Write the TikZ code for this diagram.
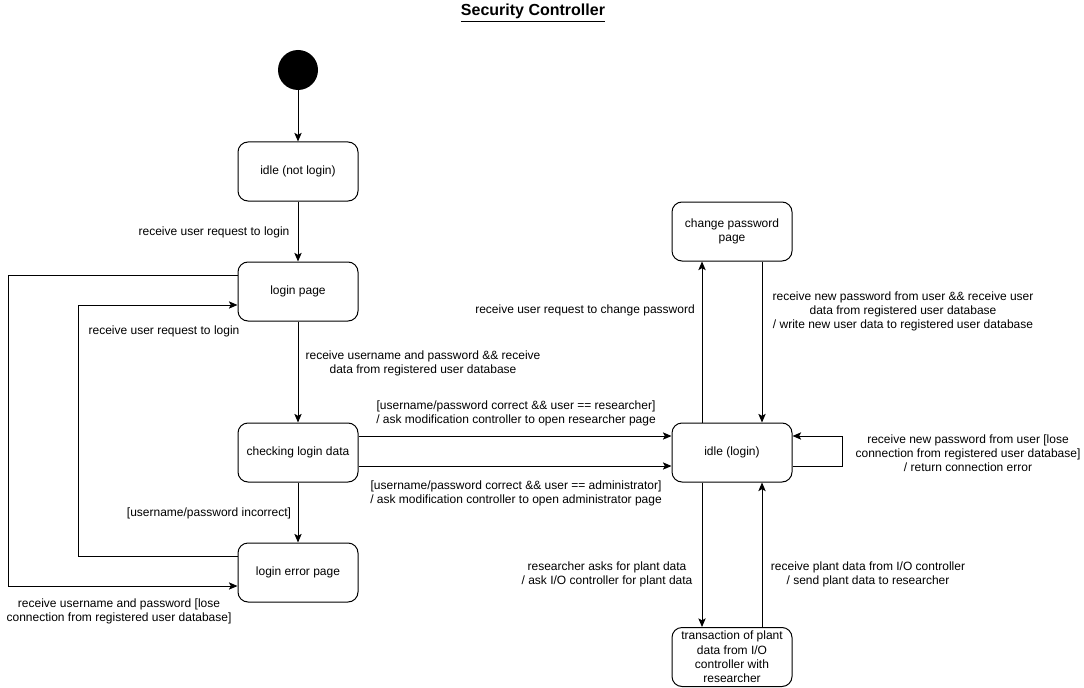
\documentclass[tikz,border=0pt]{standalone}
\usepackage{fontspec}
\setmainfont{Liberation Sans}
\usetikzlibrary{arrows.meta}
\begin{document}
\begin{tikzpicture}[x=0.75pt,y=-0.75pt,
 state/.style={draw, rounded corners=7.5pt, minimum width=90pt, minimum height=44.25pt, align=center, font=\fontsize{9}{10.7}\selectfont, inner sep=1pt, line width=0.75pt},
 lbl/.style={align=center, font=\fontsize{9}{10.5}\selectfont, inner sep=0pt, yshift=-1pt},
 tr/.style={-{Stealth[length=6.5pt,width=5.5pt,inset=1.5pt]}, line width=0.75pt}]
\useasboundingbox (0,0) rectangle (1084,688);
\node[font=\fontsize{12}{14}\selectfont\bfseries] (title) at (533,13) {\underline{Security Controller}};
\node[circle, fill=black, minimum size=30pt, inner sep=0pt] (init) at (298,70) {};
\node[state] (idle) at (298,171.5) {idle (not login)};
\node[state] (login) at (298,291.5) {login page};
\node[state] (check) at (298,452.5) {checking login data};
\node[state] (err) at (298,572.5) {login error page};
\node[state] (chg) at (732,231.5) {change password\\page};
\node[state] (idlel) at (732,452.5) {idle (login)};
\node[state] (trans) at (732,657) {transaction of plant\\data from I/O\\controller with\\researcher};

\draw[tr] (init) -- (idle);
\draw[tr] (idle) -- (login);
\draw[tr] (login) -- (check);
\draw[tr] (check) -- (err);
\draw[tr] (err.west |- 0,556) -- (78,556) -- (78,305) -- (login.west |- 0,305);
\draw[tr] (login.west |- 0,275) -- (8,275) -- (8,586) -- (err.west |- 0,586);
\draw[tr] (check.east |- 0,436) -- (idlel.west |- 0,436);
\draw[tr] (check.east |- 0,466) -- (idlel.west |- 0,466);
\draw[tr] (idlel.north -| 702,0) -- (chg.south -| 702,0);
\draw[tr] (chg.south -| 762,0) -- (idlel.north -| 762,0);
\draw[tr] (idlel.east |- 0,466) -- (842,466) -- (842,436) -- (idlel.east |- 0,436);
\draw[tr] (idlel.south -| 702,0) -- (trans.north -| 702,0);
\draw[tr] (trans.north -| 762,0) -- (idlel.south -| 762,0);

\node[lbl] (l1) at (214,231) {receive user request to login};
\node[lbl] (l2) at (423,362) {receive username and password \&\& receive\\data from registered user database};
\node[lbl] (l3) at (209,512) {[username/password incorrect]};
\node[lbl] (l4) at (164,330) {receive user request to login};
\node[lbl] (l5) at (119,610) {receive username and password [lose\\connection from registered user database]};
\node[lbl] (l6) at (516,412) {[username/password correct \&\& user == researcher]\\/ ask modification controller to open researcher page};
\node[lbl] (l7) at (516,492) {[username/password correct \&\& user == administrator]\\/ ask modification controller to open administrator page};
\node[lbl] (l8) at (585,309) {receive user request to change password};
\node[lbl] (l9) at (903,310) {receive new password from user \&\& receive user\\data from registered user database\\/ write new user data to registered user database};
\node[lbl] (l10) at (968,452) {receive new password from user [lose\\connection from registered user database]\\/ return connection error};
\node[lbl] (l11) at (607,573) {researcher asks for plant data\\/ ask I/O controller for plant data};
\node[lbl] (l12) at (868,573) {receive plant data from I/O controller\\/ send plant data to researcher};
\end{tikzpicture}
\end{document}
